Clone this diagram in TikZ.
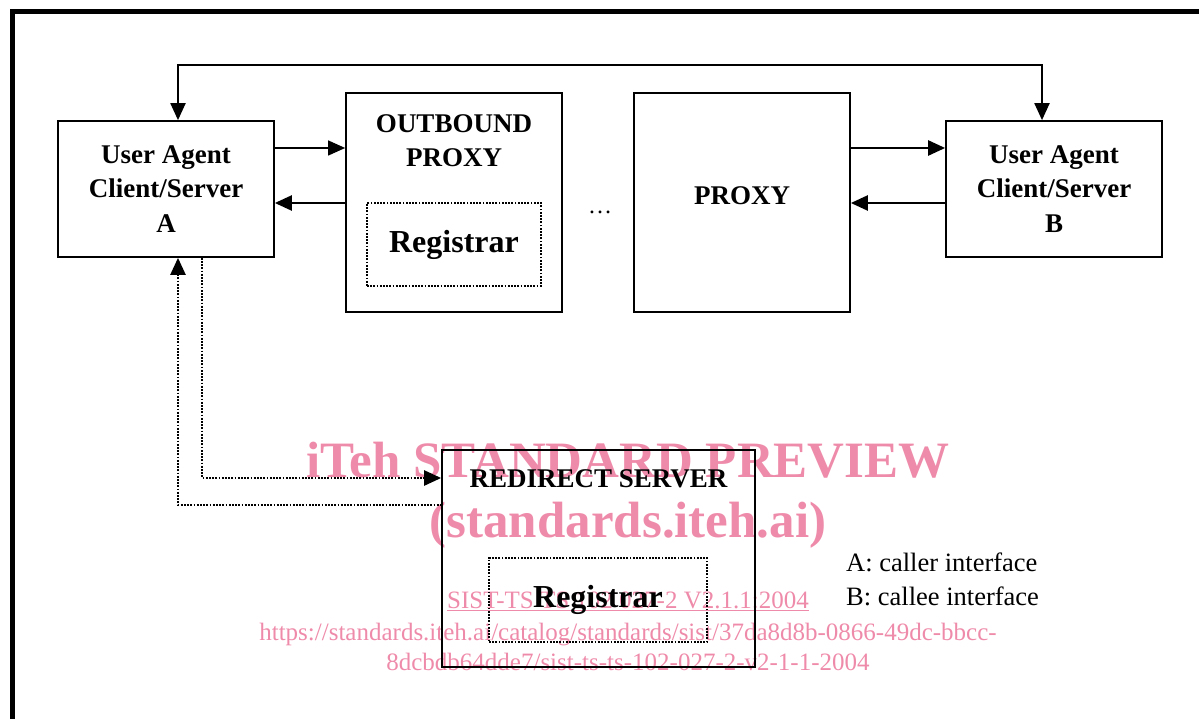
\documentclass[tikz,border=0pt]{standalone}
\usepackage{fontspec}
\setmainfont{Liberation Serif}
\usetikzlibrary{positioning}
\usetikzlibrary{arrows.meta}
\definecolor{wmark}{RGB}{239,139,170}
\tikzset{>={Triangle[length=17pt,width=15pt]}}
\tikzset{box/.style={draw, line width=1.7pt, inner sep=0pt}}
\tikzset{regbox/.style={draw, line width=2.4pt, dash pattern=on 1.8pt off 1.4pt, inner sep=0pt}}
\tikzset{ttl/.style={font=\fontsize{27}{34.5}\selectfont\bfseries, align=center, inner sep=0pt}}
\tikzset{reg/.style={font=\fontsize{32}{38}\selectfont\bfseries, inner sep=0pt}}
\tikzset{dotln/.style={line width=2.4pt, dash pattern=on 1.8pt off 1.4pt}}
\tikzset{wm/.style={text=wmark, inner sep=0pt, anchor=base}}

\begin{document}
\begin{tikzpicture}[x=1pt, y=-1pt]
\useasboundingbox (0,0) rectangle (1199,719);
\clip (0,0) rectangle (1199,719);
\draw[line width=5pt] (12,760) -- (12,12) -- (1240,12);

% watermark
\node[wm, font=\fontsize{51}{60}\selectfont\bfseries] (wm1) at (628,477) {iTeh STANDARD PREVIEW};
\node[wm, font=\fontsize{51}{60}\selectfont\bfseries] (wm2) at (628,537) {(standards.iteh.ai)};
\node[wm, font=\fontsize{25}{30}\selectfont] (wm3) at (628,608) {\underline{SIST-TS TS 102 027-2 V2.1.1:2004}};
\node[wm, font=\fontsize{25}{30}\selectfont] (wm4) at (628,640) {https://standards.iteh.ai/catalog/standards/sist/37da8d8b-0866-49dc-bbcc-};
\node[wm, font=\fontsize{25}{30}\selectfont] (wm5) at (628,670) {8dcbdb64dde7/sist-ts-ts-102-027-2-v2-1-1-2004};

% agents and proxies
\node[box, ttl, minimum width=216pt, minimum height=136pt] (uaA) at (166,189) {User Agent\\Client/Server\\A};
\node[box, minimum width=216pt, minimum height=219pt] (out) at (454,202.5) {};
\node[ttl] (outT) [below=22pt of out.north] {OUTBOUND\\PROXY};
\node[regbox, minimum width=174pt, minimum height=83pt] (regA) at (454,244.5) {};
\node[reg] (regAT) at (regA.center) {Registrar};
\node[font=\fontsize{24}{28}\selectfont] (dots) at (600,212) {\dots};
\node[box, minimum width=216pt, minimum height=219pt] (prx) at (742,202.5) {};
\node[ttl] (prxT) at (742,196) {PROXY};
\node[box, ttl, minimum width=216pt, minimum height=136pt] (uaB) at (1054,189) {User Agent\\Client/Server\\B};

% redirect server
\node[box, minimum width=313pt, minimum height=217pt] (redir) at (598.5,558.5) {};
\node[ttl] (redirT) [below=20pt of redir.north] {REDIRECT SERVER};
\node[regbox, minimum width=218pt, minimum height=84pt] (regR) at (598,600) {};
\node[reg] (regRT) at (regR.center) {Registrar};

% signalling paths
\draw[->, line width=1.2pt] ([yshift=41pt]uaA.east) -- ([yshift=41pt]uaA.east -| out.west);
\draw[<-, line width=2.4pt] ([yshift=-14pt]uaA.east) -- ([yshift=-14pt]uaA.east -| out.west);
\draw[->, line width=2.4pt] ([yshift=41pt]uaB.west -| prx.east) -- ([yshift=41pt]uaB.west);
\draw[<-, line width=2.4pt] ([yshift=-14pt]uaB.west -| prx.east) -- ([yshift=-14pt]uaB.west);
\draw[<->, line width=2pt] ([xshift=12pt]uaA.north) -- ++(0,-55) -| ([xshift=-12pt]uaB.north);
\draw[->, dotln] ([xshift=36pt]uaA.south) |- ([yshift=80.5pt]redir.west);
\draw[<-, dotln] ([xshift=12pt]uaA.south) |- ([yshift=53.5pt]redir.west);

% legend
\node[anchor=base west, inner sep=0pt, font=\fontsize{26.5}{34}\selectfont] (legA) at (846,571) {A: caller interface};
\node[anchor=base west, inner sep=0pt, font=\fontsize{26.5}{34}\selectfont] (legB) at (846,605) {B: callee interface};
\end{tikzpicture}
\end{document}
